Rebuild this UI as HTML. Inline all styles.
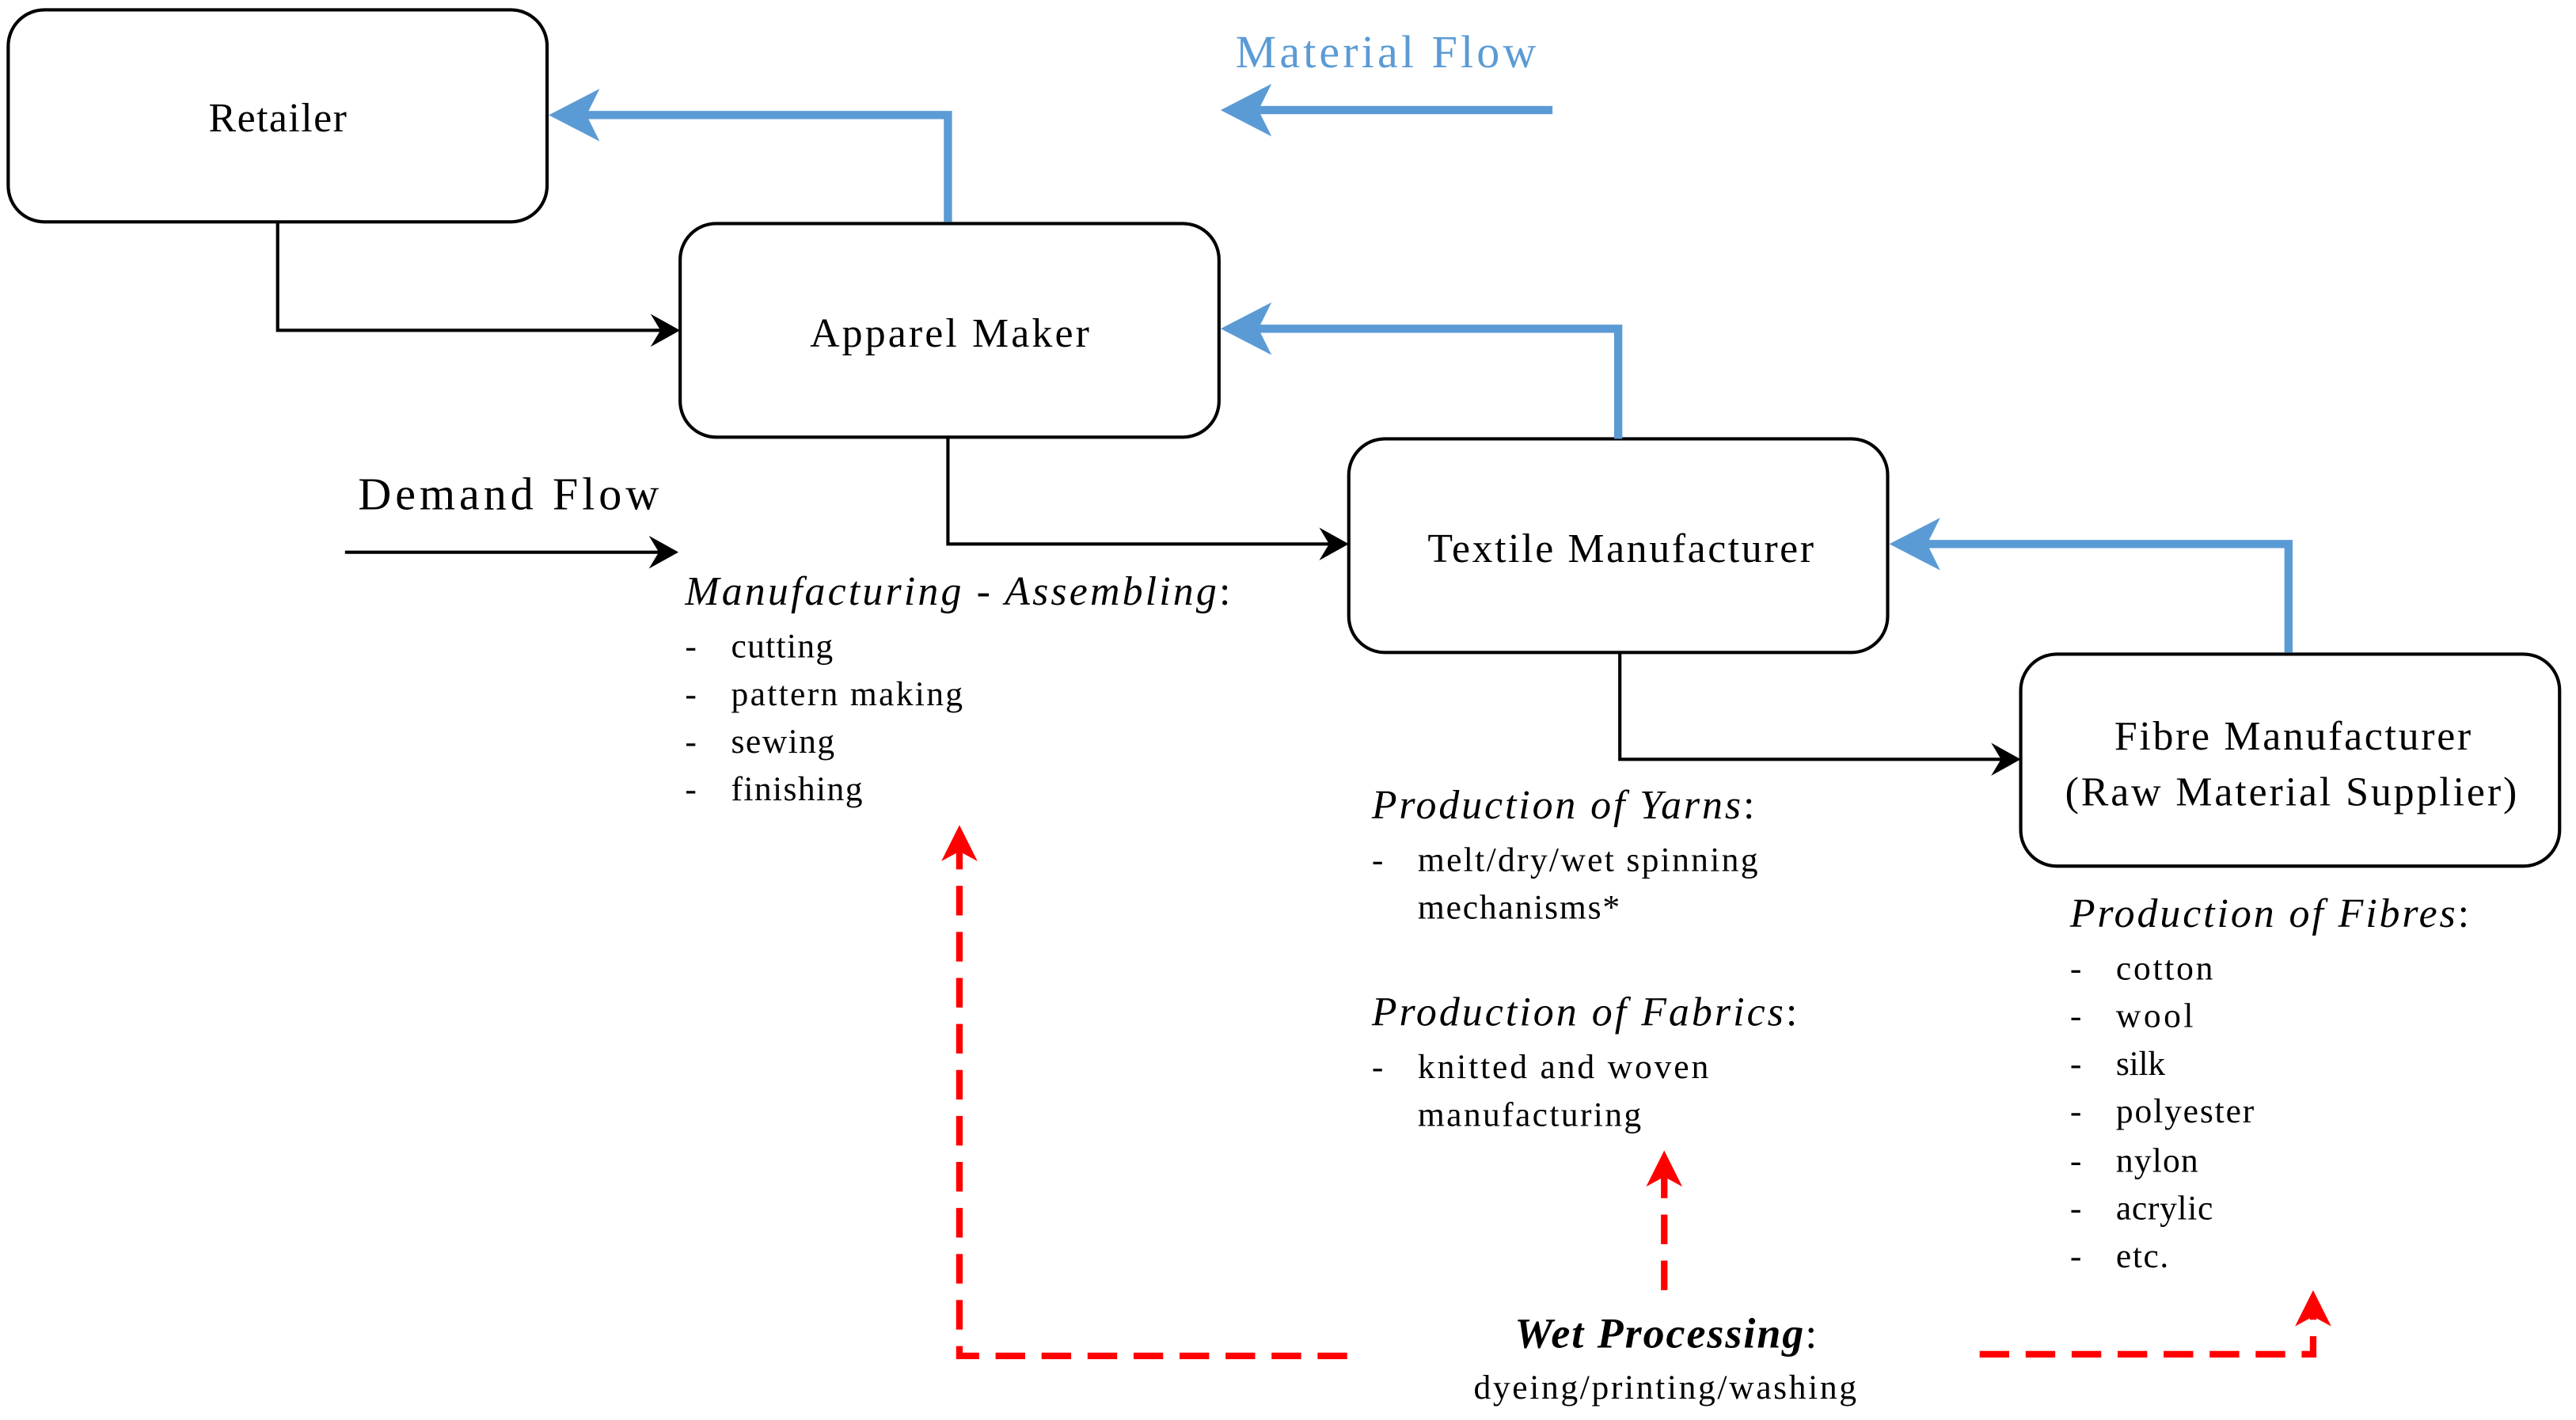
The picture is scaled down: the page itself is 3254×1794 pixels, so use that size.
<!DOCTYPE html>
<html><head><meta charset="utf-8"><style>html,body{margin:0;padding:0;background:#fff}svg{display:block}</style></head>
<body>
<svg width="3254" height="1794" viewBox="0 0 1568 864" preserveAspectRatio="none" xmlns="http://www.w3.org/2000/svg" font-family="'Liberation Serif', serif">
<g fill="#fff" stroke="#000" stroke-width="2">
<rect x="5" y="6" width="328" height="129" rx="22"/>
<rect x="414" y="136" width="328" height="130" rx="22"/>
<rect x="821" y="267" width="328" height="130" rx="22"/>
<rect x="1230" y="398" width="328" height="129" rx="22"/>
</g>
<g font-size="25" fill="#000" lengthAdjust="spacingAndGlyphs">
<text x="127" y="80" textLength="84">Retailer</text>
<text x="493" y="211" textLength="170">Apparel Maker</text>
<text x="869" y="342" textLength="235">Textile Manufacturer</text>
<text x="1287" y="456" textLength="217">Fibre Manufacturer</text>
<text x="1257" y="490" textLength="275">(Raw Material Supplier)</text>
</g>
<g fill="none" stroke="#5b9bd5" stroke-width="5">
<polyline points="577,135 577,70 345,70"/>
<polyline points="985,267 985,200 754,200"/>
<polyline points="1393,397 1393,331 1161,331"/>
<line x1="945" y1="67" x2="755" y2="67"/>
</g>
<g fill="#5b9bd5">
<path d="M334,70 L365,54 L357,70 L365,86 Z"/>
<path d="M743,200 L774,184 L766,200 L774,216 Z"/>
<path d="M1150,331 L1181,315 L1173,331 L1181,347 Z"/>
<path d="M743,67 L774,51 L766,67 L774,83 Z"/>
</g>
<text x="752" y="41" font-size="28" fill="#5b9bd5" textLength="183">Material Flow</text>
<g fill="none" stroke="#000" stroke-width="2">
<polyline points="169,135 169,201 405,201"/>
<polyline points="577,266 577,331 812,331"/>
<polyline points="986,397 986,462 1221,462"/>
<line x1="210" y1="336" x2="404" y2="336"/>
</g>
<g fill="#000">
<path d="M414,201 L396,191 L402,201 L396,211 Z"/>
<path d="M821,331 L803,321 L809,331 L803,341 Z"/>
<path d="M1230,462 L1212,452 L1218,462 L1212,472 Z"/>
<path d="M413,336 L395,326 L401,336 L395,346 Z"/>
</g>
<text x="218" y="310" font-size="28" textLength="183">Demand Flow</text>
<g font-size="21" fill="#000">
<text x="417" y="368" font-size="25" font-style="italic" textLength="332">Manufacturing - Assembling<tspan font-style="normal">:</tspan></text>
<text x="417" y="400">-</text><text x="445" y="400" textLength="62">cutting</text>
<text x="417" y="429">-</text><text x="445" y="429" textLength="141">pattern making</text>
<text x="417" y="458">-</text><text x="445" y="458" textLength="63">sewing</text>
<text x="417" y="487">-</text><text x="445" y="487" textLength="80">finishing</text>
<text x="835" y="498" font-size="25" font-style="italic" textLength="233">Production of Yarns<tspan font-style="normal">:</tspan></text>
<text x="835" y="530">-</text><text x="863" y="530" textLength="207">melt/dry/wet spinning</text>
<text x="863" y="559" textLength="123">mechanisms*</text>
<text x="835" y="624" font-size="25" font-style="italic" textLength="259">Production of Fabrics<tspan font-style="normal">:</tspan></text>
<text x="835" y="656">-</text><text x="863" y="656" textLength="177">knitted and woven</text>
<text x="863" y="685" textLength="136">manufacturing</text>
<text x="1260" y="564" font-size="25" font-style="italic" textLength="243">Production of Fibres<tspan font-style="normal">:</tspan></text>
<text x="1260" y="596">-</text><text x="1288" y="596" textLength="59">cotton</text>
<text x="1260" y="625">-</text><text x="1288" y="625" textLength="47">wool</text>
<text x="1260" y="654">-</text><text x="1288" y="654" textLength="30">silk</text>
<text x="1260" y="683">-</text><text x="1288" y="683" textLength="84">polyester</text>
<text x="1260" y="713">-</text><text x="1288" y="713" textLength="50">nylon</text>
<text x="1260" y="742">-</text><text x="1288" y="742" textLength="59">acrylic</text>
<text x="1260" y="771">-</text><text x="1288" y="771" textLength="32">etc.</text>
<text x="922" y="820" font-size="26" textLength="184"><tspan font-weight="bold" font-style="italic">Wet Processing</tspan>:</text>
<text x="897" y="851" textLength="233">dyeing/printing/washing</text>
</g>
<g fill="none" stroke="#ff0000" stroke-width="4" stroke-dasharray="18,10">
<polyline points="820,825 584,825 584,518"/>
<line x1="1013" y1="785" x2="1013" y2="716"/>
<polyline points="1205,824 1408,824 1408,800"/>
</g>
<g fill="#ff0000">
<path d="M584,502 L573,524 L584,518 L595,524 Z"/>
<path d="M1013,700 L1002,722 L1013,716 L1024,722 Z"/>
<path d="M1408,785 L1397,807 L1408,801 L1419,807 Z"/>
</g>
</svg>
</body></html>
